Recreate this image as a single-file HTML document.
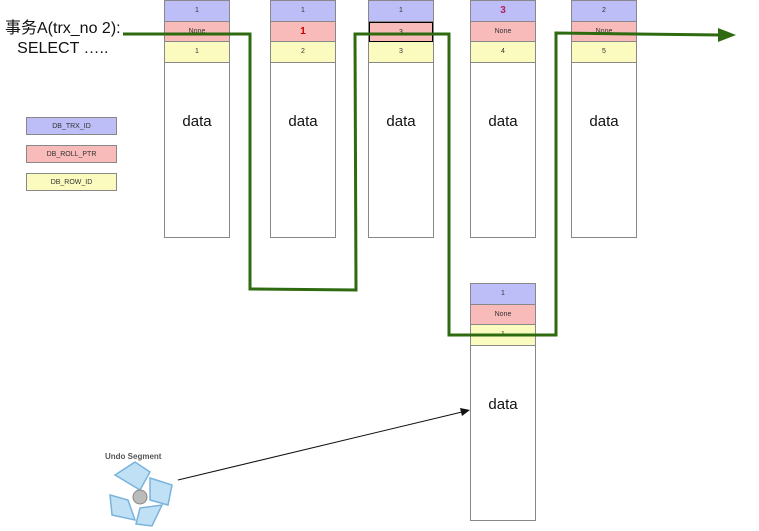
<!DOCTYPE html>
<html><head><meta charset="utf-8"><style>
body{margin:0;width:759px;height:531px;background:#fff;overflow:hidden;position:relative;font-family:"Liberation Sans","Noto Sans CJK SC",sans-serif}
.c{position:absolute;width:66px;border:1px solid #888;box-sizing:border-box;background:#fff}
.r{height:20.5px;border-bottom:1px solid #888;box-sizing:border-box;font-size:7px;text-align:center;line-height:20px;color:#333}
.b{background:#bdbdf7}.p{background:#f9baba}.y{background:#fbfbc0}
.d{text-align:center;font-size:15px;margin-top:50px;color:#111}
.l{position:absolute;left:26px;width:91px;height:18px;border:1px solid #888;box-sizing:border-box;font-size:7px;text-align:center;line-height:17px;color:#333}
</style></head><body>
<div style="position:absolute;left:5px;top:19px;font-size:16px;line-height:20px;text-align:center;color:#111">事务A(trx_no 2):<br>SELECT …..</div>
<div class="l b" style="top:117px">DB_TRX_ID</div>
<div class="l p" style="top:145px">DB_ROLL_PTR</div>
<div class="l y" style="top:173px">DB_ROW_ID</div>

<div class="c" style="left:164px;top:0;height:238px"><div class="r b">1</div><div class="r p">None</div><div class="r y">1</div><div class="d">data</div></div>
<div class="c" style="left:270px;top:0;height:238px"><div class="r b">1</div><div class="r p" style="color:#c00;font-size:10px;font-weight:bold">1</div><div class="r y">2</div><div class="d">data</div></div>
<div class="c" style="left:368px;top:0;height:238px"><div class="r b">1</div><div class="r p" style="border:1px solid #000">3</div><div class="r y">3</div><div class="d">data</div></div>
<div class="c" style="left:470px;top:0;height:238px"><div class="r b" style="color:#b0205a;font-size:10px;font-weight:bold">3</div><div class="r p">None</div><div class="r y">4</div><div class="d">data</div></div>
<div class="c" style="left:571px;top:0;height:238px"><div class="r b">2</div><div class="r p">None</div><div class="r y">5</div><div class="d">data</div></div>
<div class="c" style="left:470px;top:283px;height:238px"><div class="r b">1</div><div class="r p">None</div><div class="r y">1</div><div class="d">data</div></div>

<div style="position:absolute;left:105px;top:452px;font-size:8px;font-weight:bold;color:#555">Undo Segment</div>
<svg width="759" height="531" style="position:absolute;left:0;top:0">
<g fill="#bfe0f5" stroke="#7ab3dc" stroke-width="1.5">
<path d="M115 475 L135 462 L150 472 L140 490 Z"/>
<path d="M150 478 L172 485 L168 505 L150 500 Z"/>
<path d="M110 495 L128 500 L135 520 L112 515 Z"/>
<path d="M140 508 L162 505 L152 526 L136 524 Z"/>
</g>
<circle cx="140" cy="497" r="7" fill="#bbb" stroke="#888"/>
<polyline points="123,34 250,34 250,289 356,290 355,34 449,34 449,335 556,335 556,33 722,35" fill="none" stroke="#2e6a10" stroke-width="3"/>
<polygon points="736,35 718,28 718,42" fill="#2e6a10"/>
<line x1="178" y1="480" x2="462" y2="412" stroke="#111" stroke-width="1"/>
<polygon points="470,410 460,408 462,416" fill="#111"/>
</svg>
</body></html>
